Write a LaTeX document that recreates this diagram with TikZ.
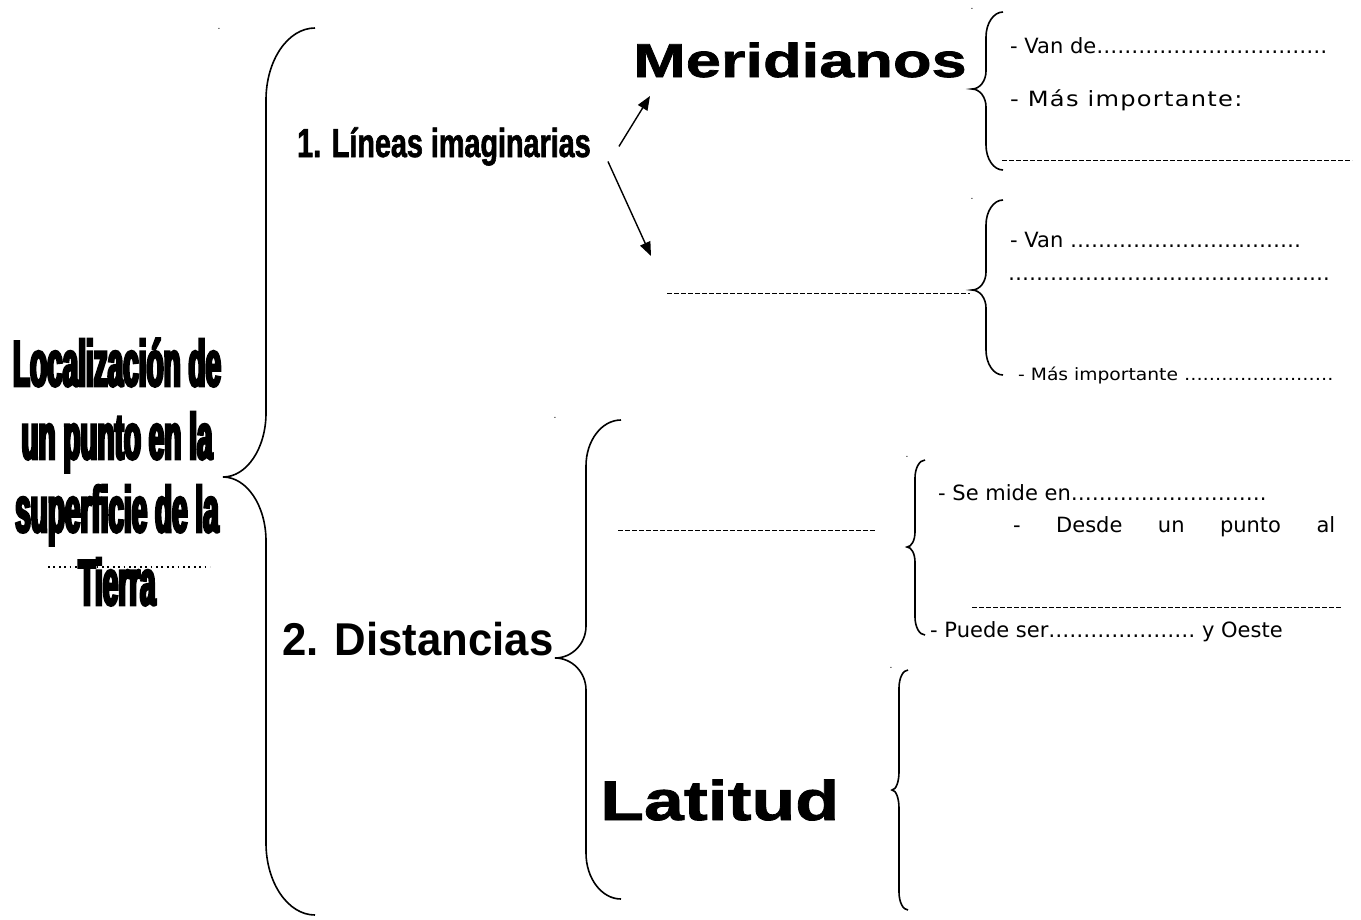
\documentclass[tikz,border=0pt]{standalone}
\usepackage{fontspec}
\setmainfont{DejaVu Sans}
\newfontfamily\headfont{Liberation Sans}
\usetikzlibrary{arrows.meta}

% heading font: stretch, size
\newcommand{\cabecera}[2]{\headfont\bfseries\addfontfeatures{FakeStretch=#1}\fontsize{#2}{#2}\selectfont}
% row of dots to fill in
\newcommand{\puntos}[1]{\foreach \k in {1,...,#1}{…}}

% curly brace: end x, top y, stem x, tip x, tip y, bottom y, end radius, tip radius
\newcommand{\llave}[8]{%
  \draw[llavelinea] (#1,#2)
    .. controls ({#1-0.552*(#1-#3)},#2) and (#3,{#2+0.448*#7}) .. (#3,{#2+#7})
    -- (#3,{#5-#8})
    .. controls (#3,{#5-0.448*#8}) and ({#4+0.552*(#3-#4)},#5) .. (#4,#5)
    .. controls ({#4+0.552*(#3-#4)},#5) and (#3,{#5+0.448*#8}) .. (#3,{#5+#8})
    -- (#3,{#6-#7})
    .. controls (#3,{#6-0.448*#7}) and ({#1-0.552*(#1-#3)},#6) .. (#1,#6);}

\begin{document}
\begin{tikzpicture}[x=1pt,y=-1pt,
    llavelinea/.style={line width=1.6pt},
    flecha/.style={line width=1.4pt,-{Triangle[length=14pt,width=11pt]}},
    relleno/.style={line width=0.9pt,dash pattern=on 5pt off 2pt},
    nota/.style={font=\fontsize{21}{24}\selectfont,inner sep=0pt,anchor=base west},
    cabeza/.style={inner sep=0pt,anchor=base west},
    punto/.style={font=\fontsize{9}{9}\selectfont,inner sep=0pt}]
    \useasboundingbox (0,0) rectangle (1361,919);

    % braces
    \llave{315}{28}{266}{223}{477}{915}{72}{64}
    \llave{1003}{12}{986}{972}{89}{170}{25}{18}
    \llave{1003}{200}{986}{972}{290}{375}{25}{18}
    \llave{621}{420}{586}{555}{658}{899}{46}{32}
    \llave{925}{460}{915}{907}{547}{635}{18}{15}
    \llave{908}{670}{899}{892}{790}{910}{18}{18}

    % stray dots
    \node[punto] (p1) at (219,29) {.};
    \node[punto] (p2) at (972,9) {.};
    \node[punto] (p3) at (972,199) {.};
    \node[punto] (p4) at (555,418) {.};
    \node[punto] (p5) at (907,457) {.};
    \node[punto] (p6) at (891,668) {.};

    % blanks
    \draw[line width=1.8pt,dash pattern=on 1.8pt off 3.6pt] (48,567) -- (210,567);
    \draw[relleno] (667,293) -- (970,293);
    \draw[relleno] (1002,160) -- (1352,160);
    \draw[relleno] (618,530) -- (875,530);
    \draw[relleno] (972,607) -- (1342,607);

    % headings
    \node[align=center,inner sep=0pt,
      font={\cabecera{0.43}{65}\addfontfeatures{FakeBold=4}\fontsize{65}{73}\selectfont}]
      (tema) at (117,472) {Localización de\\un punto en la\\superficie de la\\Tierra};
    \node[cabeza,font={\cabecera{0.71}{40.5}\addfontfeatures{FakeBold=1.5}}] (lineas) at (297,157) {1. Líneas imaginarias};
    \node[cabeza,font={\cabecera{1.33}{47.5}\addfontfeatures{FakeBold=1.5}}] (merid) at (633,77) {Meridianos};
    \node[cabeza,font={\cabecera{0.95}{46}}] (dist) at (282,655) {2. Distancias};
    \node[cabeza,font={\cabecera{1.28}{56}\addfontfeatures{FakeBold=1.5}}] (lat) at (600,820) {Latitud};

    \coordinate (m1) at (650,96);
    \coordinate (m2) at (651,256);
    \draw[flecha] ([shift={(28,0)}]lineas.east) -- (m1);
    \draw[flecha] ([shift={(17,15)}]lineas.east) -- (m2);

    % notes
    \node[nota] (van1) at (1010,53) {- Van de\puntos{11}};
    \node[nota,font={\addfontfeatures{FakeStretch=1.15,LetterSpace=6}\fontsize{21}{24}\selectfont}] (mas1) at (1010,106) {- Más importante:};
    \node[nota] (van2) at (1010,247) {- Van \puntos{11}};
    \node[nota] (van3) at (1008,280) {\puntos{15}.};
    \node[nota,font={\addfontfeatures{FakeStretch=1.1}\fontsize{17}{20}\selectfont}] (mas2) at (1018,380) {- Más importante \puntos{8}};
    \node[nota] (mide) at (938,500) {- Se mide en\puntos{9}.};
    \node[nota] (desde) at (1013,532) {\makebox[322pt][s]{- Desde un punto al}};
    \node[nota] (puede) at (930,637) {- Puede ser\puntos{7} y Oeste};
\end{tikzpicture}
\end{document}
